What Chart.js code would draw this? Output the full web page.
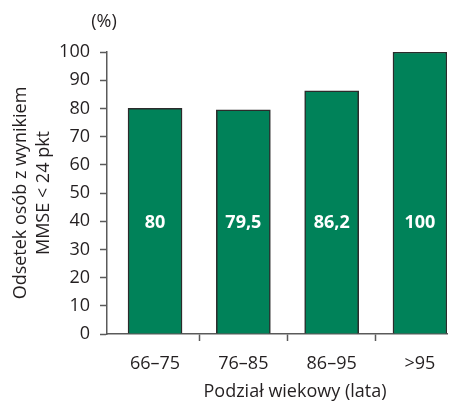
<!DOCTYPE html>
<html lang="pl">
<head>
<meta charset="utf-8">
<script src="https://cdn.jsdelivr.net/npm/chart.js@4/dist/chart.umd.min.js"></script>
<style>
  html, body { margin: 0; padding: 0; background: #fff; }
  #wrap { width: 453px; height: 401px; }
</style>
</head>
<body>
<div id="wrap"><canvas id="c" width="453" height="401"></canvas></div>
<script>
// Age groups and share of people with MMSE < 24 points
const categories = ['66–75', '76–85', '86–95', '>95'];
const shareBelow24 = [80, 79.5, 86.2, 100];
const yTicks = [0, 10, 20, 30, 40, 50, 60, 70, 80, 90, 100];

const FONT = '"Open Sans", "Noto Sans", sans-serif';
const TEXT = '#231f20';
const AXIS = '#5a5a5a';

// Extra texts: unit above the value axis, axis title under the ages, values inside the bars
const annotate = {
  id: 'annotate',
  afterDraw(chart) {
    const { ctx, chartArea, scales } = chart;
    ctx.save();
    ctx.fillStyle = TEXT;
    ctx.font = '18px ' + FONT;
    ctx.textAlign = 'center';
    ctx.textBaseline = 'middle';
    ctx.fillText('(%)', scales.y.right - 3, chartArea.top - 30);
    ctx.fillText('Podział wiekowy (lata)', (chartArea.left + chartArea.right) / 2 + 18, chart.height - 9);

    ctx.fillStyle = '#ffffff';
    ctx.font = 'bold 18px ' + FONT;
    const meta = chart.getDatasetMeta(0);
    const yLabel = scales.y.getPixelForValue(39.5);
    meta.data.forEach((bar, i) => {
      const txt = String(shareBelow24[i]).replace('.', ',');
      ctx.fillText(txt, bar.x, yLabel);
    });
    ctx.restore();
  }
};

new Chart(document.getElementById('c'), {
  type: 'bar',
  data: {
    datasets: [{
      data: shareBelow24.map((v, i) => ({ x: i, y: v })),
      backgroundColor: '#008259',
      borderColor: '#2b2b2b',
      borderWidth: 1.5,
      borderSkipped: 'start',
      barThickness: 54
    }]
  },
  plugins: [annotate],
  options: {
    responsive: false,
    animation: false,
    layout: { padding: { top: 52, right: 6, bottom: 0, left: 0 } },
    plugins: { legend: { display: false }, tooltip: { enabled: false } },
    scales: {
      x: {
        type: 'linear',
        bounds: 'data',
        offset: false,
        min: -0.544,
        max: 3.306,
        afterBuildTicks: s => { s.ticks = categories.map((_, i) => ({ value: i })); },
        afterFit: s => { s.height = 67; },
        ticks: {
          autoSkip: false,
          maxRotation: 0,
          padding: 12,
          color: TEXT,
          font: { family: FONT, size: 18 },
          callback: v => categories[v]
        },
        grid: {
          offset: true,
          drawOnChartArea: false,
          drawTicks: true,
          tickLength: 7,
          tickWidth: 1.5,
          tickColor: c => (c.index === 0 ? 'rgba(0,0,0,0)' : AXIS)
        },
        border: { display: true, color: AXIS, width: 1.5 }
      },
      y: {
        min: 0,
        max: 100,
        afterBuildTicks: s => { s.ticks = yTicks.map(v => ({ value: v })); },
        afterFit: s => { s.width = 107; },
        ticks: {
          padding: 10,
          color: TEXT,
          font: { family: FONT, size: 18 }
        },
        grid: {
          drawOnChartArea: false,
          drawTicks: true,
          tickLength: 7,
          tickWidth: 1.5,
          tickColor: AXIS
        },
        border: { display: true, color: AXIS, width: 1.5 },
        title: {
          display: true,
          text: ['Odsetek osób z wynikiem', 'MMSE < 24 pkt'],
          color: TEXT,
          font: { family: FONT, size: 18, lineHeight: 1.3 },
          padding: { top: 9, bottom: 0 }
        }
      }
    }
  }
});
</script>
</body>
</html>
